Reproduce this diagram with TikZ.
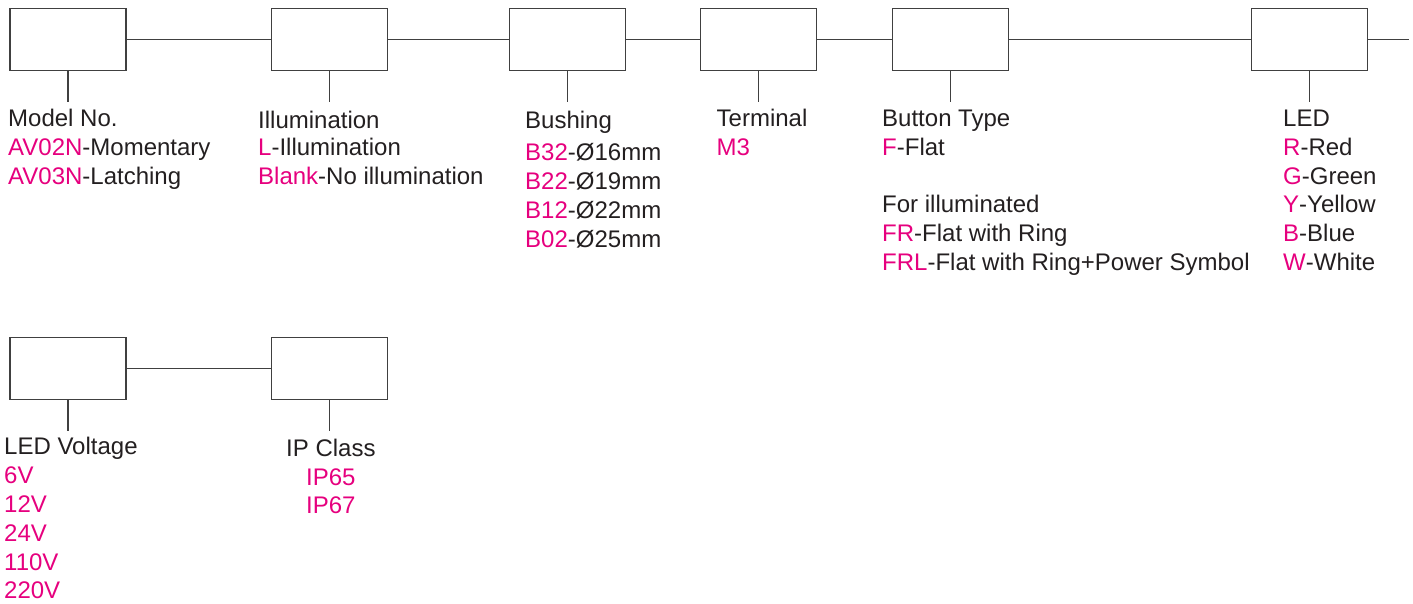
\documentclass[tikz,border=0pt]{standalone}
\usepackage{fontspec}
\setmainfont{Liberation Sans}
\usepackage{tikz}
\usetikzlibrary{positioning,calc}
\usepackage{xcolor}
\definecolor{opt}{RGB}{230,0,126}
\definecolor{ink}{RGB}{35,31,32}
\definecolor{wire}{RGB}{64,64,64}

\begin{document}
\begin{tikzpicture}[x=1pt,y=-1pt,
  slot/.style={draw=wire,line width=1.3pt,minimum width=116pt,minimum height=62pt,inner sep=0pt},
  link/.style={wire,line width=1.1pt},
  lbl/.style={anchor=base west,inner sep=0pt,text=ink,font=\fontsize{24}{29}\selectfont},
  hl/.style={opt}]
\useasboundingbox (0,0) rectangle (1413,603);
% code boxes, first row
\node[slot](bmodel) at (68,39.3){};
\node[slot](billum) at (329.5,39.3){};
\node[slot](bbush) at (567.5,39.3){};
\node[slot](bterm) at (758.5,39.3){};
\node[slot](bbutton) at (950.5,39.3){};
\node[slot](bled) at (1309.5,39.3){};
\coordinate(tail) at (1409,39.3);
\draw[link] (bmodel)--(billum)--(bbush)--(bterm)--(bbutton)--(bled);
\draw[link] (bled.east)--(tail);
% second row
\node[slot](bvolt) at (68,368.3){};
\node[slot](bip) at (329.5,368.3){};
\draw[link] (bvolt)--(bip);
% ticks down to the labels
\foreach \b in {bmodel,billum,bbush,bterm,bbutton,bled,bvolt,bip}{
  \coordinate(\b-t) at ($(\b.south)+(0,31)$);
  \draw[link] (\b.south)--(\b-t);
}
% Model No.
\node[lbl](model-h) at (8,126.5){Model No.};
\node[lbl](model-1) at (8,155.5){\textcolor{opt}{AV02N}-Momentary};
\node[lbl](model-2) at (8,184.5){\textcolor{opt}{AV03N}-Latching};
% Illumination
\node[lbl](illum-h) at (258,128.5){Illumination};
\node[lbl](illum-1) at (258,155.5){\textcolor{opt}{L}-Illumination};
\node[lbl](illum-2) at (258,184.5){\textcolor{opt}{Blank}-No illumination};
% Bushing
\node[lbl](bush-h) at (525,128.5){Bushing};
\node[lbl](bush-1) at (525,160.5){\textcolor{opt}{B32}-Ø16mm};
\node[lbl](bush-2) at (525,189.5){\textcolor{opt}{B22}-Ø19mm};
\node[lbl](bush-3) at (525,218.5){\textcolor{opt}{B12}-Ø22mm};
\node[lbl](bush-4) at (525,247.5){\textcolor{opt}{B02}-Ø25mm};
% Terminal
\node[lbl](term-h) at (716.5,126.5){Terminal};
\node[lbl,hl](term-1) at (716.5,155.5){M3};
% Button Type
\node[lbl](button-h) at (882,126.5){Button Type};
\node[lbl](button-1) at (882,155.5){\textcolor{opt}{F}-Flat};
\node[lbl](button-2) at (882,212.5){For illuminated};
\node[lbl](button-3) at (882,241.5){\textcolor{opt}{FR}-Flat with Ring};
\node[lbl](button-4) at (882,270.5){\textcolor{opt}{FRL}-Flat with Ring+Power Symbol};
% LED
\node[lbl](led-h) at (1283,126.5){LED};
\node[lbl](led-1) at (1283,155.5){\textcolor{opt}{R}-Red};
\node[lbl](led-2) at (1283,184.5){\textcolor{opt}{G}-Green};
\node[lbl](led-3) at (1283,212.5){\textcolor{opt}{Y}-Yellow};
\node[lbl](led-4) at (1283,241.5){\textcolor{opt}{B}-Blue};
\node[lbl](led-5) at (1283,270.5){\textcolor{opt}{W}-White};
% LED Voltage
\node[lbl](volt-h) at (4,454){LED Voltage};
\node[lbl,hl](volt-1) at (4,483.5){6V};
\node[lbl,hl](volt-2) at (4,512.3){12V};
\node[lbl,hl](volt-3) at (4,541){24V};
\node[lbl,hl](volt-4) at (4,570){110V};
\node[lbl,hl](volt-5) at (4,598.5){220V};
% IP Class
\node[lbl](ip-h) at (286,456.7){IP Class};
\node[lbl,hl](ip-1) at (306,485){IP65};
\node[lbl,hl](ip-2) at (306,513){IP67};
\end{tikzpicture}
\end{document}
